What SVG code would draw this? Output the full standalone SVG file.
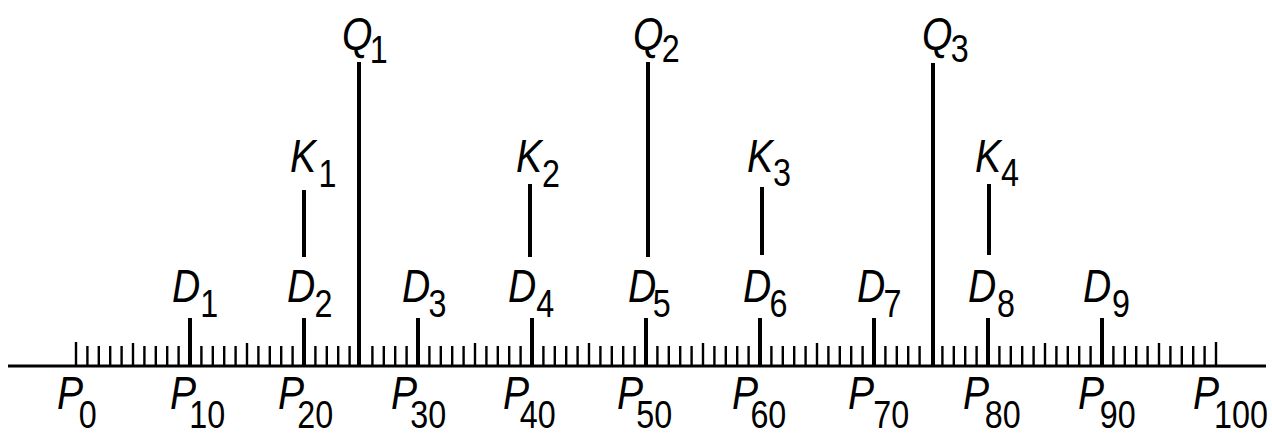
<svg xmlns="http://www.w3.org/2000/svg" width="1272" height="436" viewBox="0 0 1272 436">
<style>
.lbl{font-family:"Liberation Sans",Arial,sans-serif;font-style:italic;font-size:46px;fill:#000}
.sub{font-size:38px;font-style:normal}
.thin{stroke:#000;stroke-width:2.4;fill:none}
.thick{stroke:#000;stroke-width:4;fill:none}
.base{stroke:#000;stroke-width:3;fill:none}
</style>
<rect width="1272" height="436" fill="#fff"/>
<g id="connectors">
<line class="base" x1="8" y1="366" x2="1266" y2="366"/>
<path class="thin" d="M76 342V366M1216 342V366
M133 343V366M247 343V366M475 343V366M589 343V366M703 343V366M817 343V366M1045 343V366M1159 343V366
M87.4 346V366M98.8 346V366M110.2 346V366M121.6 346V366M144.4 346V366M155.8 346V366M167.2 346V366M178.6 346V366
M201.4 346V366M212.8 346V366M224.2 346V366M235.6 346V366M258.4 346V366M269.8 346V366M281.2 346V366M292.6 346V366
M315.4 346V366M326.8 346V366M338.2 346V366M349.6 346V366M372.4 346V366M383.8 346V366M395.2 346V366M406.6 346V366
M429.4 346V366M440.8 346V366M452.2 346V366M463.6 346V366M486.4 346V366M497.8 346V366M509.2 346V366M520.6 346V366
M543.4 346V366M554.8 346V366M566.2 346V366M577.6 346V366M600.4 346V366M611.8 346V366M623.2 346V366M634.6 346V366
M657.4 346V366M668.8 346V366M680.2 346V366M691.6 346V366M714.4 346V366M725.8 346V366M737.2 346V366M748.6 346V366
M771.4 346V366M782.8 346V366M794.2 346V366M805.6 346V366M828.4 346V366M839.8 346V366M851.2 346V366M862.6 346V366
M885.4 346V366M896.8 346V366M908.2 346V366M919.6 346V366M942.4 346V366M953.8 346V366M965.2 346V366M976.6 346V366
M999.4 346V366M1010.8 346V366M1022.2 346V366M1033.6 346V366M1056.4 346V366M1067.8 346V366M1079.2 346V366M1090.6 346V366
M1113.4 346V366M1124.8 346V366M1136.2 346V366M1147.6 346V366M1170.4 346V366M1181.8 346V366M1193.2 346V366M1204.6 346V366"/>
<path class="thick" d="M190 318V366M304 318V366M418 318V366M532 318V366M646 318V366M760 318V366M874 318V366M988 318V366M1102 318V366"/>
<path class="thick" d="M304 190V257M530 184V257M762 187V255M989 184V255"/>
<path class="thick" d="M359 62V366M648 62V257M933 63V366"/>
</g>
<g id="Q1"><text class="lbl" transform="translate(342 50) scale(0.85 1)">Q<tspan class="sub" dx="-3" dy="13">1</tspan></text></g>
<g id="Q2"><text class="lbl" transform="translate(633 50) scale(0.85 1)">Q<tspan class="sub" dx="-2" dy="12">2</tspan></text></g>
<g id="Q3"><text class="lbl" transform="translate(922 50) scale(0.85 1)">Q<tspan class="sub" dx="-2" dy="12">3</tspan></text></g>
<g id="K1"><text class="lbl" transform="translate(290 172) scale(0.85 1)">K<tspan class="sub" dx="3" dy="15">1</tspan></text></g>
<g id="K2"><text class="lbl" transform="translate(516 172) scale(0.85 1)">K<tspan class="sub" dx="0" dy="15">2</tspan></text></g>
<g id="K3"><text class="lbl" transform="translate(747 172) scale(0.85 1)">K<tspan class="sub" dx="0" dy="14">3</tspan></text></g>
<g id="K4"><text class="lbl" transform="translate(975 172) scale(0.85 1)">K<tspan class="sub" dx="0" dy="14">4</tspan></text></g>
<g id="D1"><text class="lbl" transform="translate(172 302) scale(0.85 1)">D<tspan class="sub" dx="0" dy="15">1</tspan></text></g>
<g id="D2"><text class="lbl" transform="translate(287 302) scale(0.85 1)">D<tspan class="sub" dx="-1" dy="15">2</tspan></text></g>
<g id="D3"><text class="lbl" transform="translate(402 302) scale(0.85 1)">D<tspan class="sub" dx="-2" dy="15">3</tspan></text></g>
<g id="D4"><text class="lbl" transform="translate(508 302) scale(0.85 1)">D<tspan class="sub" dx="0" dy="15">4</tspan></text></g>
<g id="D5"><text class="lbl" transform="translate(628 302) scale(0.85 1)">D<tspan class="sub" dx="-4" dy="15">5</tspan></text></g>
<g id="D6"><text class="lbl" transform="translate(743 302) scale(0.85 1)">D<tspan class="sub" dx="-2" dy="15">6</tspan></text></g>
<g id="D7"><text class="lbl" transform="translate(857 302) scale(0.85 1)">D<tspan class="sub" dx="-2" dy="15">7</tspan></text></g>
<g id="D8"><text class="lbl" transform="translate(968 302) scale(0.85 1)">D<tspan class="sub" dx="1" dy="15">8</tspan></text></g>
<g id="D9"><text class="lbl" transform="translate(1083 302) scale(0.85 1)">D<tspan class="sub" dx="1" dy="15">9</tspan></text></g>
<g id="P0"><text class="lbl" transform="translate(57 409) scale(0.85 1)">P<tspan class="sub" dx="-5" dy="19">0</tspan></text></g>
<g id="P10"><text class="lbl" transform="translate(170 409) scale(0.85 1)">P<tspan class="sub" dx="-8" dy="19">10</tspan></text></g>
<g id="P20"><text class="lbl" transform="translate(278 409) scale(0.85 1)">P<tspan class="sub" dx="-8" dy="19">20</tspan></text></g>
<g id="P30"><text class="lbl" transform="translate(391 409) scale(0.85 1)">P<tspan class="sub" dx="-8" dy="19">30</tspan></text></g>
<g id="P40"><text class="lbl" transform="translate(503 409) scale(0.85 1)">P<tspan class="sub" dx="-11" dy="19">40</tspan></text></g>
<g id="P50"><text class="lbl" transform="translate(617 409) scale(0.85 1)">P<tspan class="sub" dx="-8" dy="19">50</tspan></text></g>
<g id="P60"><text class="lbl" transform="translate(732 409) scale(0.85 1)">P<tspan class="sub" dx="-9" dy="19">60</tspan></text></g>
<g id="P70"><text class="lbl" transform="translate(848 409) scale(0.85 1)">P<tspan class="sub" dx="-1" dy="19">70</tspan></text></g>
<g id="P80"><text class="lbl" transform="translate(963 409) scale(0.85 1)">P<tspan class="sub" dx="-5" dy="19">80</tspan></text></g>
<g id="P90"><text class="lbl" transform="translate(1078 409) scale(0.85 1)">P<tspan class="sub" dx="-5" dy="19">90</tspan></text></g>
<g id="P100"><text class="lbl" transform="translate(1193 409) scale(0.85 1)">P<tspan class="sub" dx="-6" dy="19">100</tspan></text></g>
</svg>
